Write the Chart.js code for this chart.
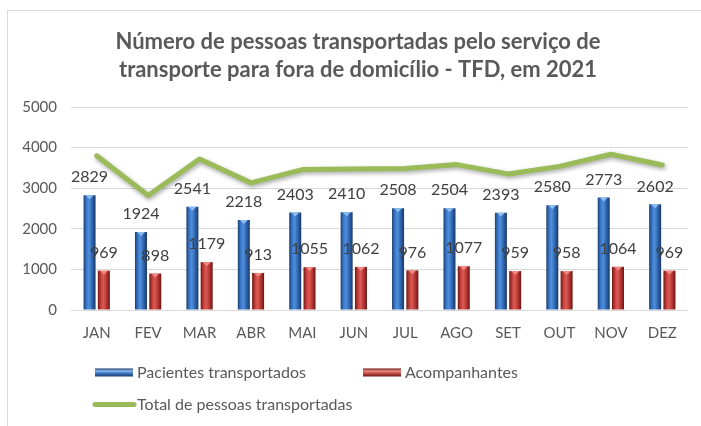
<!DOCTYPE html>
<html>
<head>
<meta charset="utf-8">
<script src="https://cdn.jsdelivr.net/npm/chart.js@4"></script>
<style>
html,body{margin:0;padding:0;background:#ffffff;}
canvas{display:block;}
</style>
</head>
<body>
<canvas id="c" width="701" height="426"></canvas>
<script>
// ---- data ----
const months = ['JAN','FEV','MAR','ABR','MAI','JUN','JUL','AGO','SET','OUT','NOV','DEZ'];
const pacientes = [2829,1924,2541,2218,2403,2410,2508,2504,2393,2580,2773,2602];
const acompanhantes = [969,898,1179,913,1055,1062,976,1077,959,958,1064,969];
const totais = [3798,2822,3720,3131,3458,3472,3484,3581,3352,3538,3837,3571];
const yTicks = [0,1000,2000,3000,4000,5000];
const titleLines = ['Número de pessoas transportadas pelo serviço de','transporte para fora de domicílio - TFD, em 2021'];
const seriesNames = ['Pacientes transportados','Acompanhantes','Total de pessoas transportadas'];

// ---- styles ----
const FONT = 'Lato';
const TEXT = '#595959';
const BLUE = {stops:['#1c3e6e','#3b79cb','#4f8fdc','#2b60a8','#193864'], cap:'#8dbdf2', base:'#3a74c2'};
const RED  = {stops:['#6e1715','#c5403b','#dc5a54','#b03430','#6a1513'], cap:'#f08a84', base:'#c0504d'};
const GREEN = '#9BBB59';
const styles = [BLUE, RED];

function grad(ctx, x0, y0, x1, y1, stops){
  const g = ctx.createLinearGradient(x0, y0, x1, y1);
  const pos = [0, 0.25, 0.45, 0.75, 1];
  stops.forEach((c,i)=>g.addColorStop(pos[i], c));
  return g;
}

const framePlugin = {
  id:'frame',
  beforeDraw(chart){
    const ctx = chart.ctx;
    ctx.save();
    ctx.fillStyle = '#ffffff';
    ctx.fillRect(0,0,chart.width,chart.height);
    ctx.strokeStyle = '#d9d9d9';
    ctx.lineWidth = 1;
    ctx.beginPath();
    ctx.moveTo(7.5, chart.height);
    ctx.lineTo(7.5, 10.5);
    ctx.lineTo(chart.width, 10.5);
    ctx.stroke();
    ctx.restore();
  }
};

const barStylePlugin = {
  id:'barStyle',
  beforeDatasetsDraw(chart){
    const ctx = chart.ctx;
    chart.data.datasets.forEach((ds, di) => {
      if (ds.type !== 'bar') return;
      const meta = chart.getDatasetMeta(di);
      meta.data.forEach(el => {
        const w = el.width;
        el.options.backgroundColor = grad(ctx, el.x - w/2, 0, el.x + w/2, 0, styles[di].stops);
      });
    });
  },
  afterDatasetDraw(chart, args){
    const ds = chart.data.datasets[args.index];
    if (ds.type !== 'bar') return;
    const ctx = chart.ctx;
    ctx.save();
    ctx.fillStyle = styles[args.index].cap;
    args.meta.data.forEach(el => {
      const w = el.width;
      ctx.beginPath();
      ctx.moveTo(el.x - w/2 + 2, el.y);
      ctx.lineTo(el.x + w/2 - 2, el.y);
      ctx.lineTo(el.x, el.y + 4);
      ctx.closePath();
      ctx.fill();
    });
    ctx.restore();
  }
};

const shadowPlugin = {
  id:'lineShadow',
  beforeDatasetDraw(chart, args){
    if (chart.data.datasets[args.index].type !== 'line') return;
    const ctx = chart.ctx;
    ctx.save();
    ctx.shadowColor = 'rgba(0,0,0,0.35)';
    ctx.shadowBlur = 4;
    ctx.shadowOffsetX = 1;
    ctx.shadowOffsetY = 2;
  },
  afterDatasetDraw(chart, args){
    if (chart.data.datasets[args.index].type !== 'line') return;
    chart.ctx.restore();
  }
};

const labelPlugin = {
  id:'valueLabels',
  afterDatasetsDraw(chart){
    const ctx = chart.ctx;
    ctx.save();
    ctx.font = '16px ' + FONT;
    ctx.fillStyle = '#404040';
    ctx.textAlign = 'center';
    ctx.textBaseline = 'middle';
    chart.data.datasets.forEach((ds, di) => {
      if (ds.type !== 'bar') return;
      const meta = chart.getDatasetMeta(di);
      meta.data.forEach((el, i) => {
        ctx.fillText(String(ds.data[i]), el.x, el.y - 18);
      });
    });
    ctx.restore();
  }
};

const legendPlugin = {
  id:'customLegend',
  afterDraw(chart){
    const ctx = chart.ctx;
    const ds = chart.data.datasets;
    ctx.save();
    ctx.font = '16px ' + FONT;
    ctx.fillStyle = TEXT;
    ctx.textBaseline = 'middle';
    ctx.textAlign = 'left';
    const items = [
      {x:95, y:372.5, kind:'bar', style:BLUE, text:ds[0].label},
      {x:363, y:372.5, kind:'bar', style:RED, text:ds[1].label},
      {x:93, y:404.5, kind:'line', text:ds[2].label}
    ];
    items.forEach(it => {
      if (it.kind === 'bar') {
        const h = 8, w = 38;
        const g = ctx.createLinearGradient(0, it.y - h/2, 0, it.y + h/2);
        g.addColorStop(0, it.style.stops[4]);
        g.addColorStop(0.3, it.style.cap);
        g.addColorStop(0.6, it.style.base);
        g.addColorStop(1, it.style.stops[0]);
        ctx.fillStyle = g;
        ctx.fillRect(it.x, it.y - h/2, w, h);
        ctx.fillStyle = TEXT;
        ctx.fillText(it.text, it.x + 42, it.y);
      } else {
        ctx.strokeStyle = GREEN;
        ctx.lineWidth = 5;
        ctx.lineCap = 'round';
        ctx.beginPath();
        ctx.moveTo(it.x + 2, it.y);
        ctx.lineTo(it.x + 41, it.y);
        ctx.stroke();
        ctx.fillStyle = TEXT;
        ctx.fillText(it.text, it.x + 44, it.y);
      }
    });
    ctx.restore();
  }
};

new Chart(document.getElementById('c'), {
  data: {
    labels: months,
    datasets: [
      {type:'bar', label:seriesNames[0], data:pacientes, backgroundColor:() => BLUE.base,
       categoryPercentage:0.556, barPercentage:0.84, borderWidth:0, order:1},
      {type:'bar', label:seriesNames[1], data:acompanhantes, backgroundColor:() => RED.base,
       categoryPercentage:0.556, barPercentage:0.84, borderWidth:0, order:1},
      {type:'line', label:seriesNames[2], data:totais, borderColor:GREEN, backgroundColor:GREEN,
       borderWidth:5, pointRadius:0, pointHoverRadius:0, tension:0, fill:false,
       borderJoinStyle:'round', borderCapStyle:'round', order:0}
    ]
  },
  options: {
    responsive:false,
    animation:false,
    devicePixelRatio:1,
    layout:{padding:{left:15, right:0, top:0, bottom:70}},
    plugins:{
      legend:{display:false},
      tooltip:{enabled:false},
      title:{
        display:true, text:titleLines, color:TEXT,
        font:{family:FONT, size:22, weight:'bold', lineHeight:28/22},
        padding:{top:28, bottom:23}
      }
    },
    scales:{
      x:{
        grid:{display:false, drawTicks:false},
        border:{display:false},
        ticks:{color:TEXT, font:{family:FONT, size:15}, padding:14, maxRotation:0}
      },
      y:{
        position:'left',
        min:0, max:5000,
        afterBuildTicks:(s) => { s.ticks = yTicks.map(v => ({value:v})); },
        afterFit:(s) => { s.width = 56; },
        grid:{color:'#d9d9d9', drawTicks:false, lineWidth:1},
        border:{display:false},
        ticks:{color:TEXT, font:{family:FONT, size:15}, padding:14, callback:(v) => String(v)}
      },
      yRight:{
        position:'right',
        display:true,
        afterFit:(s) => { s.width = 13; },
        grid:{display:false, drawTicks:false},
        border:{display:false},
        ticks:{display:false}
      }
    }
  },
  plugins:[framePlugin, barStylePlugin, shadowPlugin, labelPlugin, legendPlugin]
});
</script>
</body>
</html>
